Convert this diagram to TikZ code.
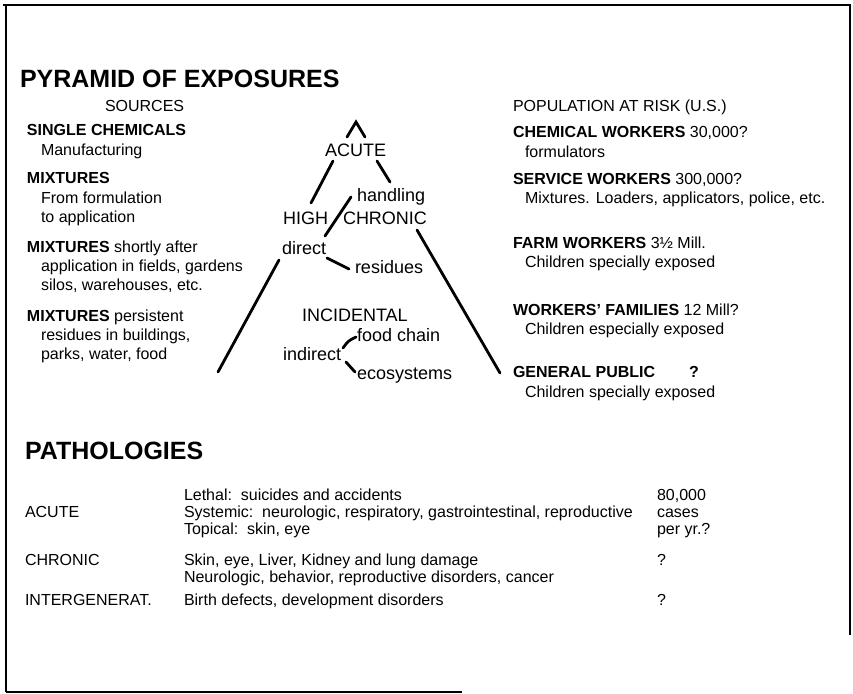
\documentclass[tikz,border=0pt]{standalone}
\usepackage{fontspec}
\setmainfont{Liberation Sans}
\begin{document}
\begin{tikzpicture}[x=1pt,y=-1pt,
  txt/.style={inner sep=0pt, outer sep=0pt, anchor=base west, font=\fontsize{16}{19}\selectfont},
  pyr/.style={inner sep=0pt, outer sep=0pt, anchor=base west, font=\fontsize{18}{21}\selectfont},
  head/.style={inner sep=0pt, outer sep=0pt, anchor=base west, font=\fontsize{25}{30}\selectfont\bfseries},
  edge/.style={line width=2.8pt, line cap=round},
  framel/.style={line width=2pt}]
\useasboundingbox (0,0) rectangle (853,693);
% frame
\coordinate (f1) at (3,5); \coordinate (f2) at (850,5); \coordinate (f3) at (850,635);
\coordinate (f4) at (6,5); \coordinate (f5) at (6,692); \coordinate (f6) at (462,692);
\draw[framel] (f1) -- (f2) -- (f3);
\draw[framel] (f4) -- (f5);
\draw[framel] (f5) -- (f6);
% titles
\node[head] (t1) at (20,87) {PYRAMID OF EXPOSURES};
\node[txt] (src) at (105,111.5) {SOURCES};
\node[txt] (pop) at (513,111.5) {POPULATION AT RISK (U.S.)};
% left column
\node[txt] (l1) at (27,135.5) {\bfseries SINGLE CHEMICALS};
\node[txt] (l1a) at (41,155.5) {Manufacturing};
\node[txt] (l2) at (27,183.5) {\bfseries MIXTURES};
\node[txt] (l2a) at (41,203.5) {From formulation};
\node[txt] (l2b) at (41,222.5) {to application};
\node[txt] (l3) at (27,252.5) {\textbf{MIXTURES} shortly after};
\node[txt] (l3a) at (41,271.5) {application in fields, gardens};
\node[txt] (l3b) at (41,290.5) {silos, warehouses, etc.};
\node[txt] (l4) at (27,321.5) {\textbf{MIXTURES} persistent};
\node[txt] (l4a) at (41,340.5) {residues in buildings,};
\node[txt] (l4b) at (41,359.5) {parks, water, food};
% right column
\node[txt] (r1) at (513,137.5) {\textbf{CHEMICAL WORKERS} 30,000?};
\node[txt] (r1a) at (525,157.5) {formulators};
\node[txt] (r2) at (513,184.5) {\textbf{SERVICE WORKERS} 300,000?};
\node[txt] (r2a) at (525,203.5) {Mixtures. Loaders, applicators, police, etc.};
\node[txt] (r3) at (513,248.5) {\textbf{FARM WORKERS} 3½ Mill.};
\node[txt] (r3a) at (525,267.5) {Children specially exposed};
\node[txt] (r4) at (513,315.5) {\textbf{WORKERS' FAMILIES} 12 Mill?};
\node[txt] (r4a) at (525,334.5) {Children especially exposed};
\node[txt] (r5) at (513,377.5) {\bfseries GENERAL PUBLIC};
\node[txt] (r5q) at (689,377.5) {\bfseries ?};
\node[txt] (r5a) at (525,397.5) {Children specially exposed};
% pyramid
\node[pyr] (acute) at (325,156.5) {ACUTE};
\node[pyr] (handling) at (357,201.5) {handling};
\node[pyr] (high) at (283,224.5) {HIGH};
\node[pyr] (chronic) at (343,224.5) {CHRONIC};
\node[pyr] (direct) at (282,254.5) {direct};
\node[pyr] (residues) at (355,273.5) {residues};
\node[pyr] (incid) at (302,321.5) {INCIDENTAL};
\node[pyr] (food) at (357,341.5) {food chain};
\node[pyr] (indirect) at (283,360.5) {indirect};
\node[pyr] (eco) at (357,379.5) {ecosystems};
\coordinate (p1) at (347,137); \coordinate (p2) at (356,122); \coordinate (p3) at (365,137);
\draw[edge] (p1) -- (p2) -- (p3);
\coordinate (a1) at (333,161); \coordinate (a2) at (311,203);
\draw[edge] (a1) -- (a2);
\coordinate (b1) at (377,161); \coordinate (b2) at (390,182);
\draw[edge] (b1) -- (b2);
\coordinate (s1) at (351,197); \coordinate (s2) at (325,236);
\draw[edge] (s1) -- (s2);
\coordinate (d1) at (327,258); \coordinate (d2) at (349,269);
\draw[edge] (d1) -- (d2);
\coordinate (L1) at (279,260); \coordinate (L2) at (218,372);
\draw[edge] (L1) -- (L2);
\coordinate (R1) at (417,230); \coordinate (R2) at (500,373);
\draw[edge] (R1) -- (R2);
\coordinate (i1) at (343,348); \coordinate (i2) at (356,337);
\draw[edge] (i1) .. controls (348,341) .. (i2);
\coordinate (e1) at (346,362); \coordinate (e2) at (355,372);
\draw[edge] (e1) -- (e2);
% pathologies
\node[head] (path) at (25,459) {PATHOLOGIES};
\node[txt] (pa) at (25,517.5) {ACUTE};
\node[txt] (pa1) at (184,500.5) {Lethal:\ \ suicides and accidents};
\node[txt] (pa2) at (184,517.5) {Systemic:\ \ neurologic, respiratory, gastrointestinal, reproductive};
\node[txt] (pa3) at (184,534.5) {Topical:\ \ skin, eye};
\node[txt] (pan1) at (657,500.5) {80,000};
\node[txt] (pan2) at (657,517.5) {cases};
\node[txt] (pan3) at (657,534.5) {per yr.?};
\node[txt] (pc) at (25,565.5) {CHRONIC};
\node[txt] (pc1) at (184,565.5) {Skin, eye, Liver, Kidney and lung damage};
\node[txt] (pc2) at (184,582.5) {Neurologic, behavior, reproductive disorders, cancer};
\node[txt] (pcq) at (657,565.5) {?};
\node[txt] (pi) at (25,605.5) {INTERGENERAT.};
\node[txt] (pi1) at (184,605.5) {Birth defects, development disorders};
\node[txt] (piq) at (657,605.5) {?};
\end{tikzpicture}
\end{document}
